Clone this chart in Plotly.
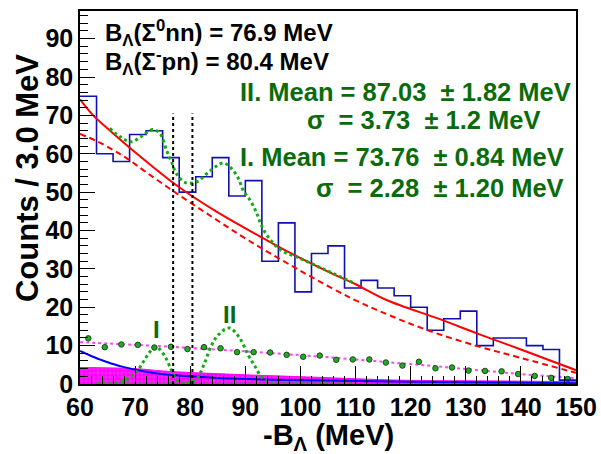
import plotly.graph_objects as go

# ---------------- data ----------------
BIN_START = 60.0
BIN_WIDTH = 3.0
hist_counts = [75, 60, 58, 65, 66, 59, 50, 54, 59, 49,
               53, 32, 42, 24, 34, 36, 25, 27, 25, 23,
               20, 14, 17, 19, 10, 12, 12, 10, 9, 1]

# background points (green dots on magenta dotted line), bin centres
bkg_x = [61.5, 64.5, 67.5, 70.5, 73.5, 76.5, 79.5, 82.5, 85.5, 88.5,
         91.5, 94.5, 97.5, 100.5, 103.5, 106.5, 109.5, 112.5, 115.5, 118.5,
         121.5, 124.5, 127.5, 130.5, 133.5, 136.5, 139.5, 142.5, 145.5, 148.5]
bkg_y = [11.9, 9.6, 10.3, 10.2, 9.5, 9.7, 9.1, 9.6, 9.3, 8.3,
         8.3, 8.2, 7.6, 7.1, 7.4, 6.3, 6.4, 6.4, 5.6, 4.8,
         5.8, 4.1, 4.3, 3.5, 3.4, 3.3, 2.6, 2.1, 1.6, 1.3]

# magenta dotted fit through background points
bkgfit_x = [60, 70, 80, 90, 100, 110, 120, 130, 140, 150]
bkgfit_y = [10.9, 10.2, 9.4, 8.5, 7.5, 6.4, 5.2, 3.9, 2.6, 1.5]

# red solid curve (background fit)
red_x = [60, 62.4, 65, 70, 77.5, 85, 92.7, 97, 105, 110, 115.6, 125.3, 132, 140, 150]
red_y = [74.2, 70.0, 66.6, 60.4, 51.8, 44.7, 38.4, 35.0, 29.3, 26.0, 21.9, 16.9, 13.2, 9.0, 3.6]

# red dashed curve
redd_x = [60, 63, 66, 68.5, 72, 77.5, 84, 90.5, 100, 109.3, 116, 122.9, 132, 140, 150]
redd_y = [65.2, 63.3, 61.0, 58.8, 55.2, 49.7, 43.5, 37.5, 29.5, 22.3, 18.0, 14.1, 9.9, 6.8, 2.9]

# green dotted total fit
tot_x = [65.4, 67.3, 69.3, 71.2, 73.2, 74.5, 75.7, 76.6, 77.5, 79.1, 81.2, 83, 84.8, 86,
         87.2, 88.7, 89.6, 90.9, 92.1, 92.8, 93.9, 95.4, 96.9, 100, 105, 110]
tot_y = [66.6, 64.4, 63.1, 64.6, 66.3, 65.3, 60.9, 57.9, 54.8, 52.5, 52.7, 54.8, 56.8, 57.6,
         56.6, 53.7, 50.5, 47.8, 44.4, 41.7, 38.8, 36.2, 34.5, 32.7, 29.4, 26.1]

# Gaussian peaks I and II (green dotted)
g1_x = [63, 66, 68, 69, 70.3, 71.5, 72.7, 73.7, 74.5, 75.6, 76.5, 77.2, 78, 79.5, 82, 90, 100, 110]
g1_y = [0.0, 0.2, 0.8, 1.7, 3.2, 5.8, 8.4, 9.6, 9.0, 6.7, 3.9, 1.8, 0.6, 0.1, 0.0, 0.0, 0.0, 0.0]
g2_x = [63, 70, 77, 79.5, 81.2, 81.8, 82.7, 83.9, 85.1, 87.1, 89, 90.5, 91.8, 93, 94.5, 96, 100, 110]
g2_y = [0.0, 0.0, 0.0, 0.2, 1.4, 2.8, 5.8, 10.2, 12.8, 14.6, 11.9, 7.6, 4.5, 1.7, 0.4, 0.0, 0.0, 0.0]

# blue solid curve
blue_x = [60, 62, 64, 66, 68, 72, 76, 80, 86, 95, 104, 120, 135, 150]
blue_y = [8.6, 7.3, 6.2, 5.2, 4.4, 3.2, 2.4, 2.0, 1.5, 1.1, 0.9, 0.6, 0.4, 0.2]

# magenta filled band
mag_x = [60, 70, 76, 90, 100, 104, 118, 136, 150]
mag_y = [4.3, 4.0, 3.3, 2.4, 1.9, 1.7, 1.0, 0.8, 0.6]

# thresholds
B_SIGMA0_NN = 76.9
B_SIGMAM_PN = 80.4
THRESH_TOP = 70.5

x_ticks = [60, 70, 80, 90, 100, 110, 120, 130, 140, 150]
y_ticks = [0, 10, 20, 30, 40, 50, 60, 70, 80, 90]

# ---------------- figure ----------------
FONT = "Liberation Sans, Arial, Helvetica, sans-serif"
GREEN_TXT = "#0b6b0b"

edges = [BIN_START + BIN_WIDTH * i for i in range(len(hist_counts) + 1)]
hist_y = hist_counts + [hist_counts[-1]]

fig = go.Figure()

fig.add_trace(go.Scatter(x=mag_x, y=mag_y, mode="lines", fill="tozeroy",
                         line=dict(color="#ff00ff", width=1, shape="spline"),
                         fillcolor="#ff00ff",
                         fillpattern=dict(shape="+", fgcolor="#ff88ff", bgcolor="#ff00ff",
                                          size=4, solidity=0.25),
                         hoverinfo="skip"))

fig.add_trace(go.Scatter(x=blue_x, y=blue_y, mode="lines",
                         line=dict(color="#0000ff", width=2, shape="spline")))

fig.add_trace(go.Scatter(x=bkgfit_x, y=bkgfit_y, mode="lines",
                         line=dict(color="#ff44ff", width=2, dash="dot", shape="spline")))
fig.add_trace(go.Scatter(x=bkg_x, y=bkg_y, mode="markers",
                         marker=dict(color="#22aa22", size=5.5,
                                     line=dict(color="#1a4a1a", width=1))))

for gx, gy in ((g1_x, g1_y), (g2_x, g2_y)):
    fig.add_trace(go.Scatter(x=gx, y=gy, mode="lines",
                             line=dict(color="#11aa11", width=3, dash="dot", shape="spline")))

fig.add_trace(go.Scatter(x=edges, y=hist_y, mode="lines",
                         line=dict(color="#1010b0", width=1.6, shape="hv")))

fig.add_trace(go.Scatter(x=redd_x, y=redd_y, mode="lines",
                         line=dict(color="#ff0000", width=2, dash="6px,4px", shape="spline")))
fig.add_trace(go.Scatter(x=red_x, y=red_y, mode="lines",
                         line=dict(color="#ff0000", width=2, shape="spline")))

fig.add_trace(go.Scatter(x=tot_x, y=tot_y, mode="lines",
                         line=dict(color="#11aa11", width=3, dash="dot", shape="spline")))

for xv in (B_SIGMA0_NN, B_SIGMAM_PN):
    fig.add_trace(go.Scatter(x=[xv, xv], y=[0, THRESH_TOP], mode="lines",
                             line=dict(color="black", width=2, dash="3px,3px")))

def ann(x, y, text, size, color, xanchor, xref="x", yref="y", angle=0):
    fig.add_annotation(x=x, y=y, xref=xref, yref=yref, text=text, showarrow=False,
                       xanchor=xanchor, yanchor="middle", textangle=angle,
                       font=dict(family=FONT, size=size, color=color, weight="bold"))

ann(64.1, 91.4, "B<sub>Λ</sub>(Σ<sup>0</sup>nn) = 76.9 MeV", 24, "black", "left")
ann(64.1, 84.0, "B<sub>Λ</sub>(Σ<sup>-</sup>pn) = 80.4 MeV", 24, "black", "left")
ann(149.5, 76.2, "II. Mean = 87.03  ± 1.82 MeV", 25.5, GREEN_TXT, "right")
ann(143.8, 68.7, "σ  = 3.73  ± 1.2 MeV", 25.5, GREEN_TXT, "right")
ann(148.1, 59.1, "I. Mean = 73.76  ± 0.84 MeV", 25.5, GREEN_TXT, "right")
ann(148.2, 51.0, "σ  = 2.28  ± 1.20 MeV", 25.5, GREEN_TXT, "right")
ann(73.8, 14.1, "I", 24, GREEN_TXT, "center")
ann(87.2, 18.0, "II", 24, GREEN_TXT, "center")

ann(-0.107, 0.552, "Counts / 3.0 MeV", 31, "black", "center", "paper", "paper", -90)
ann(0.502, -0.141, "-B<sub>Λ</sub> (MeV)", 29, "black", "center", "paper", "paper")

axis_common = dict(showgrid=False, zeroline=False, showline=True, linecolor="black",
                   linewidth=1.5, mirror=True, ticks="inside", tickcolor="black",
                   tickwidth=1, automargin=False,
                   tickfont=dict(family=FONT, size=25, color="black", weight="bold"))

fig.update_layout(
    width=601, height=454,
    margin=dict(l=80, r=25, t=11, b=70, autoexpand=False),
    paper_bgcolor="white", plot_bgcolor="white",
    showlegend=False,
    xaxis=dict(range=[60, 150], tickvals=x_ticks, ticktext=[str(v) for v in x_ticks],
               ticklen=18, minor=dict(dtick=2, ticklen=8, ticks="inside",
                                      tickcolor="black", tickwidth=1),
               **axis_common),
    yaxis=dict(range=[0, 97.2], tickvals=y_ticks, ticktext=[str(v) for v in y_ticks],
               ticklen=15, minor=dict(dtick=2, ticklen=8, ticks="inside",
                                      tickcolor="black", tickwidth=1),
               **axis_common),
)

fig.write_html("out.html", config={"displayModeBar": False},
               post_script="document.body.style.margin='0';document.body.style.padding='0';"
                           "document.body.style.overflow='hidden';")
